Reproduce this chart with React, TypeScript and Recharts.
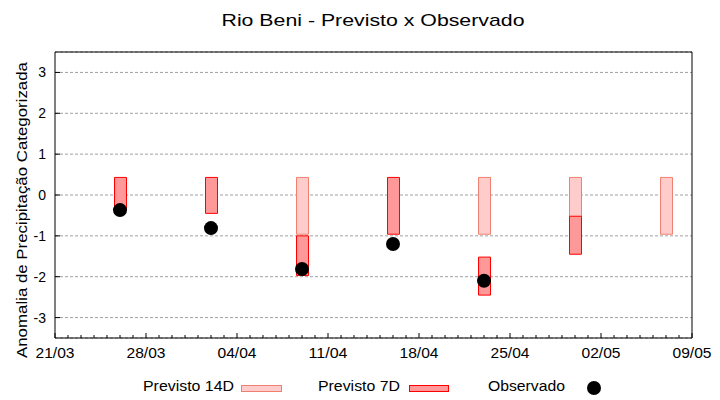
import React from 'react';
import { ComposedChart, Bar, Scatter, XAxis, YAxis, CartesianGrid, Legend, ReferenceArea } from 'recharts';

// x axis: days since 21/03
const xTickDays = [0, 7, 14, 21, 28, 35, 42, 49];
const xTickLabels = ['21/03', '28/03', '04/04', '11/04', '18/04', '25/04', '02/05', '09/05'];
const dayTicks = [
  0, 1, 2, 3, 4, 5, 6, 7, 8, 9, 10, 11, 12, 13, 14, 15, 16, 17, 18, 19, 20, 21, 22, 23, 24,
  25, 26, 27, 28, 29, 30, 31, 32, 33, 34, 35, 36, 37, 38, 39, 40, 41, 42, 43, 44, 45, 46, 47, 48, 49,
];
const yTicks = [-3, -2, -1, 0, 1, 2, 3];
const xDomain = [0, 49];
const yDomain = [-3.5, 3.5];

// forecast dates (day offsets) and values
const forecastDays = [5, 12, 19, 26, 33, 40, 47];
const forecastDates = ['26/03', '02/04', '09/04', '16/04', '23/04', '30/04', '07/05'];
const prev14Low = [null, null, -0.96, null, -0.96, -0.96, -0.96];
const prev14High = [null, null, 0.43, null, 0.43, 0.43, 0.43];
const prev7Low = [-0.37, -0.45, -1.97, -0.96, -2.45, -1.45, null];
const prev7High = [0.43, 0.43, -1.0, 0.43, -1.52, -0.52, null];
const observed = [-0.37, -0.81, -1.81, -1.2, -2.1, null, null];

const data = forecastDays.map((day, i) => ({
  day,
  date: forecastDates[i],
  p14: prev14Low[i] == null ? null : [prev14Low[i], prev14High[i]],
  p7: prev7Low[i] == null ? null : [prev7Low[i], prev7High[i]],
}));
const obsData = forecastDays
  .map((day, i) => ({ day, obs: observed[i] }))
  .filter((d) => d.obs != null);

const FONT = '"Liberation Sans", Arial, sans-serif';

const BottomTick = (props: any) => {
  const { x, y, payload } = props;
  const v = payload.value;
  const idx = xTickDays.indexOf(v);
  const major = idx >= 0;
  return (
    <g>
      <line x1={x} x2={x} y1={y} y2={y - (major ? 5 : 3)} stroke="#000" strokeWidth={1} />
      {major && (
        <text
          x={x}
          y={y + 20}
          textAnchor="middle"
          fontFamily={FONT}
          fontSize={14}
          fill="#000"
          textLength={39}
          lengthAdjust="spacingAndGlyphs"
        >
          {xTickLabels[idx]}
        </text>
      )}
    </g>
  );
};

const TopTick = (props: any) => {
  const { x, y, payload } = props;
  const major = xTickDays.indexOf(payload.value) >= 0;
  return <line x1={x} x2={x} y1={y} y2={y + (major ? 5 : 3)} stroke="#000" strokeWidth={1} />;
};

const LeftTick = (props: any) => {
  const { x, y, payload } = props;
  return (
    <g>
      <line x1={x} x2={x + 5} y1={y} y2={y} stroke="#000" strokeWidth={1} />
      <text x={x - 9} y={y + 5} textAnchor="end" fontFamily={FONT} fontSize={14} fill="#000">
        {payload.value}
      </text>
    </g>
  );
};

const RightTick = (props: any) => {
  const { x, y } = props;
  return <line x1={x} x2={x - 4} y1={y} y2={y} stroke="#000" strokeWidth={1} />;
};

const Dot = (props: any) => <circle cx={props.cx} cy={props.cy} r={7} fill="#000" />;

const renderLegend = () => (
  <div style={{ position: 'relative', width: 720, height: 20 }}>
    <svg width={720} height={20} style={{ position: 'absolute', left: 0, top: 0 }}>
      <text x={143} y={15} fontFamily={FONT} fontSize={14} textLength={91} lengthAdjust="spacingAndGlyphs">
        Previsto 14D
      </text>
      <rect x={241.5} y={9.5} width={40} height={6} fill="#ffcccc" stroke="#f08070" />
      <text x={318} y={15} fontFamily={FONT} fontSize={14} textLength={82} lengthAdjust="spacingAndGlyphs">
        Previsto 7D
      </text>
      <rect x={409.5} y={9.5} width={39} height={6} fill="#ff9999" stroke="#ff0000" />
      <text x={488} y={15} fontFamily={FONT} fontSize={14} textLength={77} lengthAdjust="spacingAndGlyphs">
        Observado
      </text>
      <circle cx={594} cy={12} r={7} fill="#000" />
    </svg>
  </div>
);

const YLabel = () => (
  <text
    transform="translate(27,210) rotate(-90)"
    textAnchor="middle"
    fontFamily={FONT}
    fontSize={15}
    fill="#000"
    textLength={296}
    lengthAdjust="spacingAndGlyphs"
  >
    Anomalia de Precipitação Categorizada
  </text>
);

export default function App() {
  return (
    <div style={{ position: 'absolute', left: 0, top: 0, width: 720, height: 400, background: '#fff' }}>
      <svg width={720} height={40} style={{ position: 'absolute', left: 0, top: 0 }}>
        <text
          x={373}
          y={26}
          textAnchor="middle"
          fontFamily={FONT}
          fontSize={17}
          fill="#000"
          textLength={303}
          lengthAdjust="spacingAndGlyphs"
        >
          Rio Beni - Previsto x Observado
        </text>
      </svg>
      <ComposedChart
        width={720}
        height={400}
        data={data}
        margin={{ top: 52, right: 28, bottom: 4, left: 0 }}
      >
        <CartesianGrid vertical={false} stroke="#a0a0a0" strokeDasharray="3 2" />
        <XAxis
          xAxisId="main"
          type="number"
          dataKey="day"
          domain={xDomain}
          ticks={dayTicks}
          interval={0}
          height={38}
          tickSize={0}
          tickMargin={0}
          tickLine={false}
          axisLine={false}
          tick={BottomTick}
          allowDataOverflow
        />
        <XAxis
          xAxisId="top"
          orientation="top"
          type="number"
          dataKey="day"
          domain={xDomain}
          ticks={dayTicks}
          interval={0}
          height={0}
          tickSize={0}
          tickMargin={0}
          tickLine={false}
          axisLine={false}
          tick={TopTick}
          allowDataOverflow
        />
        <XAxis
          xAxisId="over"
          orientation="top"
          type="number"
          dataKey="day"
          domain={xDomain}
          height={0}
          hide
          allowDataOverflow
        />
        <YAxis
          type="number"
          domain={yDomain}
          ticks={yTicks}
          interval={0}
          width={55}
          tickSize={0}
          tickMargin={0}
          tickLine={false}
          axisLine={false}
          tick={LeftTick}
          label={<YLabel />}
          allowDataOverflow
        />
        <YAxis
          yAxisId="right"
          orientation="right"
          type="number"
          domain={yDomain}
          ticks={yTicks}
          interval={0}
          width={0}
          tickSize={0}
          tickMargin={0}
          tickLine={false}
          axisLine={false}
          tick={RightTick}
          allowDataOverflow
        />
        <Bar
          xAxisId="main"
          dataKey="p14"
          name="Previsto 14D"
          barSize={12}
          fill="#ffcccc"
          stroke="#f08070"
          strokeWidth={1}
          isAnimationActive={false}
        />
        <Bar
          xAxisId="over"
          dataKey="p7"
          name="Previsto 7D"
          barSize={12}
          fill="#ff9999"
          stroke="#ff0000"
          strokeWidth={1}
          isAnimationActive={false}
        />
        <Scatter
          xAxisId="main"
          data={obsData}
          dataKey="obs"
          name="Observado"
          fill="#000"
          shape={Dot}
          isAnimationActive={false}
        />
        <ReferenceArea
          xAxisId="main"
          x1={xDomain[0]}
          x2={xDomain[1]}
          y1={yDomain[0]}
          y2={yDomain[1]}
          fill="none"
          fillOpacity={0}
          stroke="#000"
          strokeWidth={1}
          ifOverflow="visible"
        />
        <Legend verticalAlign="bottom" height={20} content={renderLegend} wrapperStyle={{ left: 0, width: 720 }} />
      </ComposedChart>
    </div>
  );
}
